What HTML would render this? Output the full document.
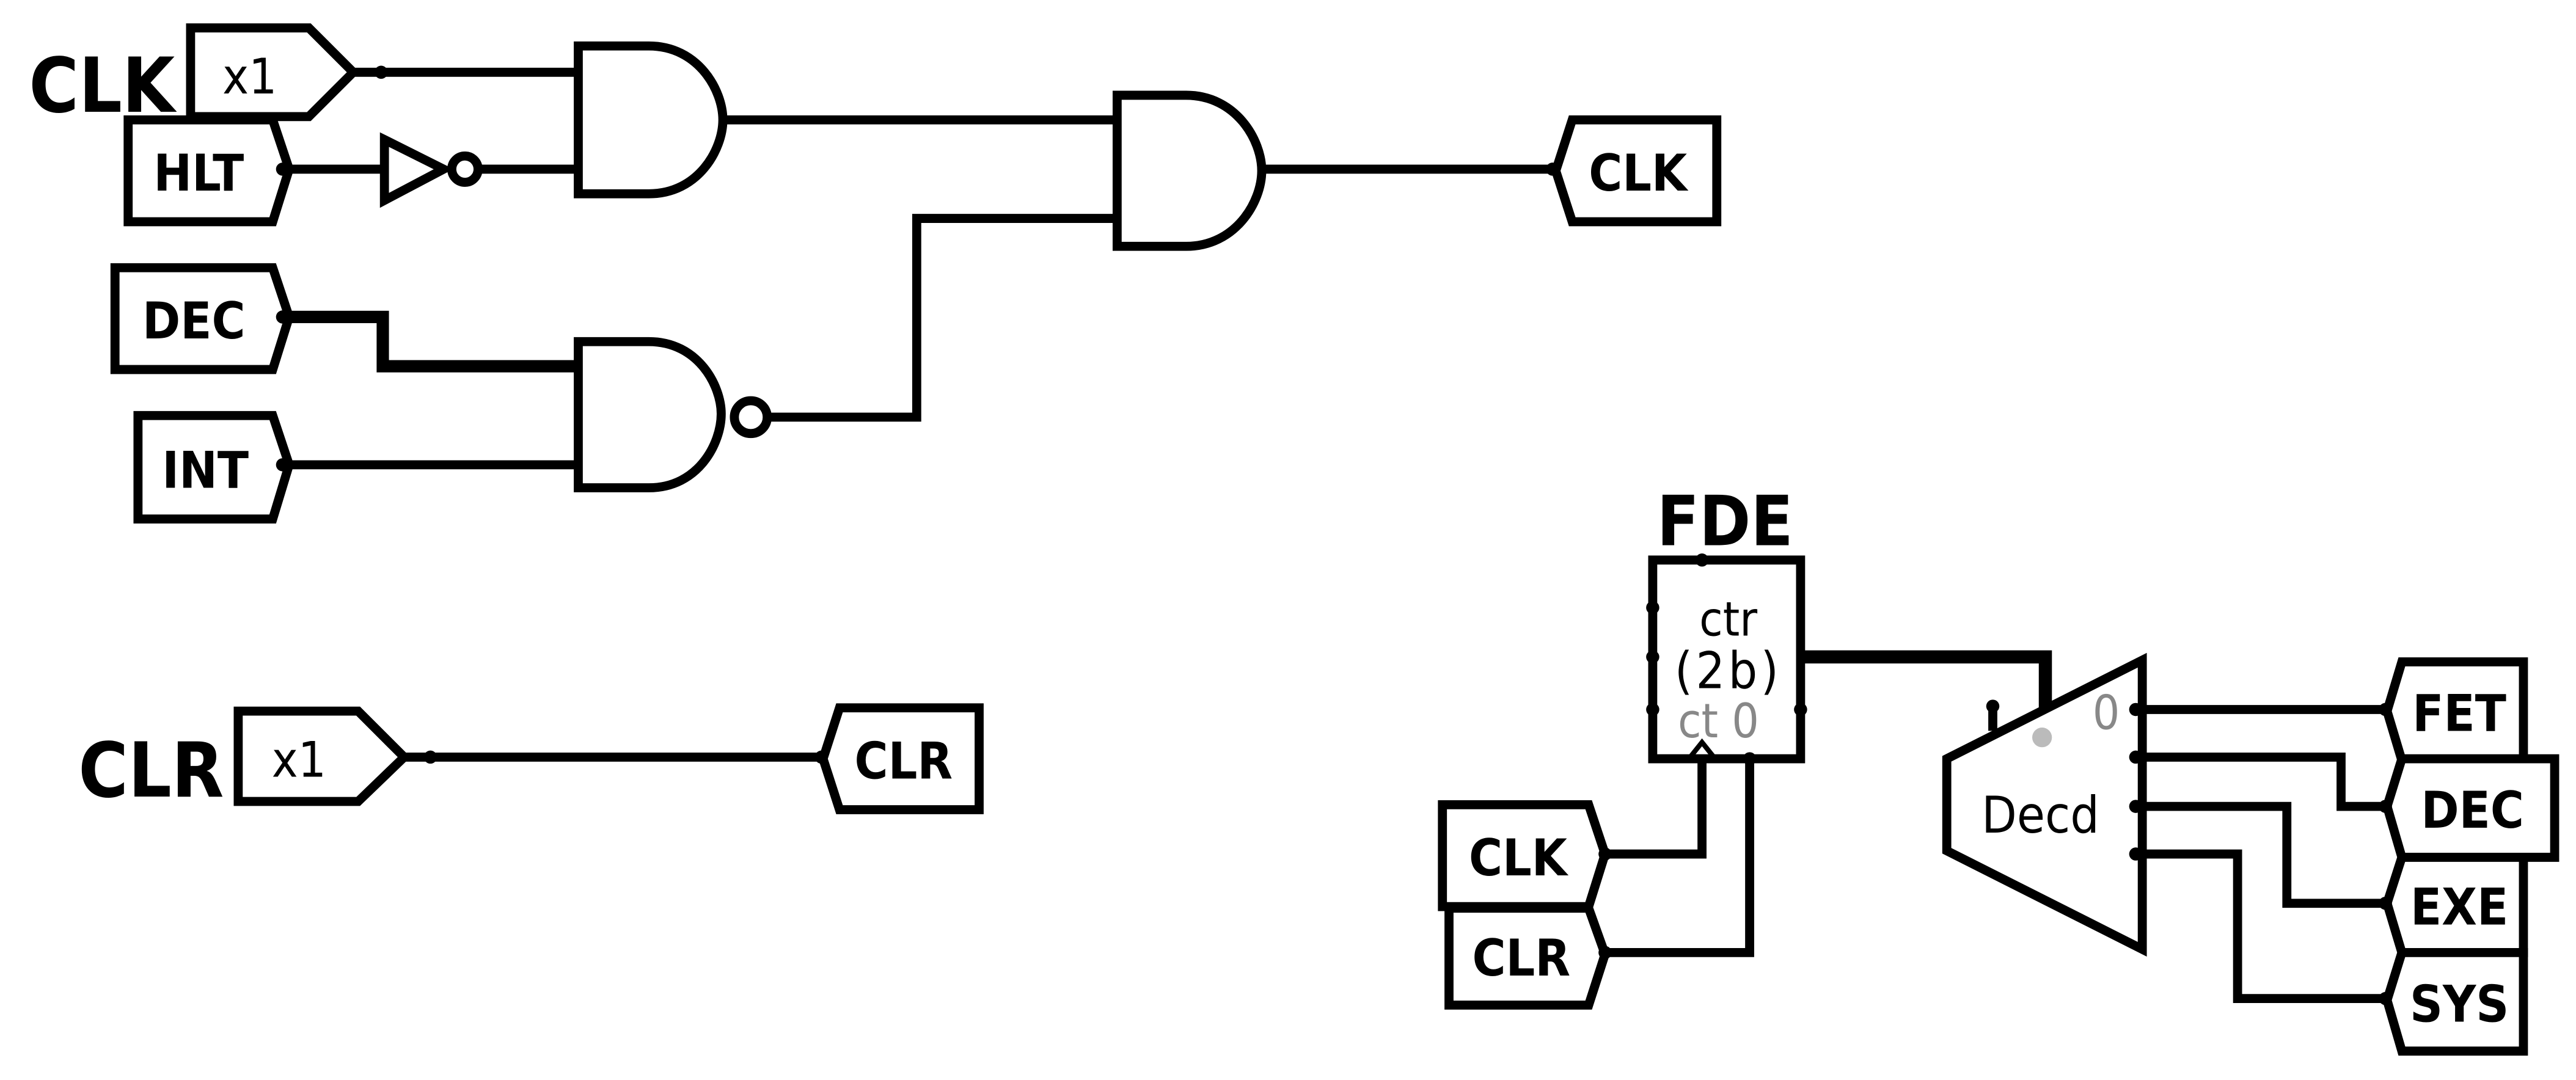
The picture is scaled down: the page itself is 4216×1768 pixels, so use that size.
<!DOCTYPE html>
<html><head><style>
html,body{margin:0;padding:0;background:#fff;}
svg{display:block;}
text{font-family:"DejaVu Sans Condensed","DejaVu Sans","Liberation Sans",sans-serif;font-stretch:condensed;}
</style></head><body>
<svg width="4216" height="1768" viewBox="0 0 1568 657.6" preserveAspectRatio="none" xmlns="http://www.w3.org/2000/svg">
<g fill="none" stroke="#000" stroke-width="5.5" stroke-linejoin="miter">
<polygon points="116,17 188,17 215,44 188,71 116,71" fill="#fff"/>
<polygon points="78,73 166,73 176,103 166,135 78,135" fill="#fff"/>
<polygon points="70,163 166,163 176,193 166,225 70,225" fill="#fff"/>
<polygon points="84,253 166,253 176,283 166,316 84,316" fill="#fff"/>
<polyline points="215,44 352,44"/>
<polyline points="172,103 234,103"/>
<polygon points="234,85 270,103 234,122"/>
<circle cx="283" cy="103" r="8"/>
<polyline points="291,103 352,103"/>
<path d="M352,28 H395 C425,28 440,55 440,73 C440,91 425,118 395,118 H352 Z" fill="#fff"/>
<polyline points="440,73 680,73"/>
<path d="M680,58 H722 C752,58 768,85 768,104 C768,123 752,150 722,150 H680 Z" fill="#fff"/>
<polyline points="768,103 945,103"/>
<polygon points="957,73 1045,73 1045,135 957,135 947,104 " fill="#fff"/>
<polyline points="172,193 233,193 233,223 352,223" stroke-width="7.5"/>
<polyline points="172,283 352,283"/>
<path d="M352,208 H395 C425,208 439,235 439,252 C439,270 425,297 395,297 H352 Z" fill="#fff"/>
<circle cx="457" cy="254" r="10"/>
<polyline points="467,254 558,254 558,133 680,133"/>
<polygon points="145,433 218,433 246,461 218,488 145,488" fill="#fff"/>
<polyline points="246,461 500,461"/>
<polygon points="511,431 596,431 596,493 511,493 501,462" fill="#fff"/>
<rect x="1006" y="341" width="90" height="121" fill="#fff"/>
<polyline points="1096,400 1245,400 1245,432" stroke-width="8"/>
<polygon points="1185,462 1304,402 1304,578 1185,518" fill="#fff"/>
<polyline points="1213,430 1213,445"/>
<polyline points="1300,432 1452,432"/>
<polyline points="1300,461 1425,461 1425,491 1452,491"/>
<polyline points="1300,491 1392,491 1392,550 1452,550"/>
<polyline points="1300,520 1362,520 1362,608 1452,608"/>
<polygon points="1462,403 1536,403 1536,463 1462,463 1453,433" fill="#fff"/>
<polygon points="1462,462 1555,462 1555,522 1462,522 1453,491" fill="#fff"/>
<polygon points="1462,522 1536,522 1536,580 1462,580 1453,550" fill="#fff"/>
<polygon points="1462,580 1536,580 1536,640 1462,640 1453,609" fill="#fff"/>
<polygon points="878,490 967,490 977,520 967,552 878,552" fill="#fff"/>
<polygon points="882,553 967,553 977,581 967,612 882,612" fill="#fff"/>
<polyline points="977,520 1036,520 1036,462"/>
<polyline points="977,580 1065,580 1065,462"/>
<polygon points="1028,462 1036,452 1044,462" stroke-width="3"/>
</g>
<g fill="#000">
<circle cx="232" cy="44" r="4"/>
<circle cx="172" cy="103" r="4"/>
<circle cx="172" cy="193" r="4"/>
<circle cx="172" cy="283" r="4"/>
<circle cx="945" cy="103" r="4"/>
<circle cx="262" cy="461" r="4"/>
<circle cx="500" cy="461" r="4"/>
<circle cx="1036" cy="341" r="4"/>
<circle cx="1006" cy="370" r="4"/>
<circle cx="1006" cy="400" r="4"/>
<circle cx="1006" cy="432" r="4"/>
<circle cx="1096" cy="432" r="4"/>
<circle cx="1065" cy="462" r="4"/>
<circle cx="1213" cy="430" r="4"/>
<circle cx="1300" cy="432" r="4"/>
<circle cx="1300" cy="461" r="4"/>
<circle cx="1300" cy="491" r="4"/>
<circle cx="1300" cy="520" r="4"/>
<circle cx="1452" cy="432" r="4"/>
<circle cx="1452" cy="491" r="4"/>
<circle cx="1452" cy="550" r="4"/>
<circle cx="1452" cy="608" r="4"/>
<circle cx="977" cy="520" r="4"/>
<circle cx="977" cy="580" r="4"/>
</g>
<circle cx="1243" cy="449" r="6" fill="#bbb"/>
<g font-weight="bold" text-anchor="middle" fill="#000">
<text x="62" y="68" font-size="46">CLK</text>
<text x="121" y="116" font-size="31">HLT</text>
<text x="118" y="206" font-size="31">DEC</text>
<text x="125" y="297" font-size="31">INT</text>
<text x="997" y="116" font-size="31">CLK</text>
<text x="92" y="485" font-size="46">CLR</text>
<text x="550" y="474" font-size="31">CLR</text>
<text x="1050" y="332" font-size="42">FDE</text>
<text x="1497" y="445" font-size="31">FET</text>
<text x="1505" y="504" font-size="31">DEC</text>
<text x="1497" y="563" font-size="31">EXE</text>
<text x="1497" y="622" font-size="31">SYS</text>
<text x="924" y="533" font-size="31">CLK</text>
<text x="926" y="594" font-size="31">CLR</text>
</g>
<g text-anchor="middle" fill="#000">
<text x="152" y="57" font-size="30">x1</text>
<text x="182" y="473" font-size="30">x1</text>
<text x="1052" y="387" font-size="29">ctr</text>
<text x="1052" y="419" font-size="31" letter-spacing="2">(2b)</text>
<text x="1046" y="449" font-size="29" fill="#888">ct 0</text>
<text x="1282" y="444" font-size="29" fill="#888">0</text>
<text x="1242" y="507" font-size="31">Decd</text>
</g>
</svg>
</body></html>
